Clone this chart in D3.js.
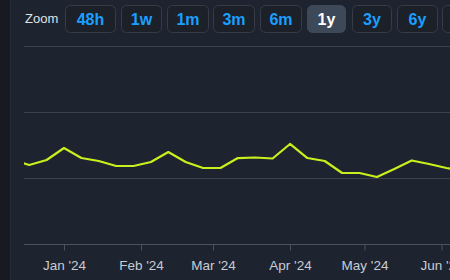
<!DOCTYPE html>
<html><head><meta charset="utf-8">
<script src="https://cdn.jsdelivr.net/npm/d3@7"></script>
<style>html,body{margin:0;padding:0;background:#1e2330;overflow:hidden}</style>
</head><body>
<script>
const dates = ["2023-12-11","2023-12-18","2023-12-25","2024-01-01","2024-01-08","2024-01-15","2024-01-22","2024-01-29","2024-02-05","2024-02-12","2024-02-19","2024-02-26","2024-03-04","2024-03-11","2024-03-18","2024-03-25","2024-04-01","2024-04-08","2024-04-15","2024-04-22","2024-04-29","2024-05-06","2024-05-13","2024-05-20","2024-05-27","2024-06-03","2024-06-10"];
const values = [126.5,119,126.5,144.7,129.5,125,117.4,117.4,123.5,138.6,123.5,114.4,114.4,129.5,130.3,128.8,150.8,129.5,125,106.8,106.8,100.8,112.9,125.8,120.5,114.4,109.8];
const yTicks = [0,100,200,300];
const monthTicks = ["2024-01-01","2024-02-01","2024-03-01","2024-04-01","2024-05-01","2024-06-01"];
const zoomButtons = ["48h","1w","1m","3m","6m","1y","3y","6y","All"];
const selectedZoom = "1y";

const W = 450, H = 280;
const parse = d3.utcParse("%Y-%m-%d");
const svg = d3.select("body").append("svg").attr("width", W).attr("height", H);

svg.append("rect").attr("width", W).attr("height", H).attr("fill", "#1e2330");
svg.append("rect").attr("width", 10).attr("height", H).attr("fill", "#171a21");
svg.append("rect").attr("x", 10).attr("width", 1).attr("height", H).attr("fill", "#242a36");

// zoom buttons
svg.append("text").attr("x", 25).attr("y", 23).attr("fill", "#dfe3e8")
  .attr("font-family", "Liberation Sans, Arial, sans-serif").attr("font-size", 13).text("Zoom");
const btnX = [65,121,167,213,260,307,352,397,442];
const btnW = [51,41,42,42,42,39,40,41,50];
zoomButtons.forEach((b, i) => {
  const g = svg.append("g").attr("transform", `translate(${btnX[i]},5)`);
  const sel = b === selectedZoom;
  g.append("rect").attr("x", 0.5).attr("y", 0.5).attr("width", btnW[i] - 1).attr("height", 27)
    .attr("rx", 5).attr("fill", sel ? "#3d4859" : "#1b2029").attr("stroke", sel ? "#3d4859" : "#353c48");
  g.append("text").attr("x", btnW[i] / 2).attr("y", 19.5).attr("text-anchor", "middle")
    .attr("font-family", "Liberation Sans, Arial, sans-serif").attr("font-weight", "bold")
    .attr("font-size", 16).attr("fill", sel ? "#ffffff" : "#1a9fff").text(b);
});

const x = d3.scaleUtc().domain([parse("2024-01-01"), parse("2024-04-01")]).range([64, 290]);
const y = d3.scaleLinear().domain([0, 300]).range([243.5, 45.5]);

const left = 24;
svg.append("clipPath").attr("id", "clip").append("rect").attr("x", left).attr("y", 0).attr("width", W - left).attr("height", H);

// grid
svg.append("g").selectAll("line").data(yTicks.slice(1)).join("line")
  .attr("x1", left).attr("x2", W).attr("y1", d => Math.round(y(d)) + 0.5).attr("y2", d => Math.round(y(d)) + 0.5)
  .attr("stroke", "#3a414d").attr("stroke-width", 1);

// x axis
const xAxis = d3.axisBottom(x).tickValues(monthTicks.map(parse)).tickSize(6).tickPadding(10)
  .tickFormat(d3.utcFormat("%b '%y"));
const ax = svg.append("g").attr("transform", `translate(0,${Math.round(y(0)) + 0.5})`).call(xAxis);
ax.select(".domain").remove();
ax.append("line").attr("x1", left).attr("x2", W).attr("stroke", "#4a5160");
ax.selectAll(".tick line").attr("stroke", "#4a5160");
ax.selectAll(".tick text").attr("fill", "#c7ccd4").attr("font-size", 13.5)
  .attr("font-family", "Liberation Sans, Arial, sans-serif");

const line = d3.line().x((d, i) => x(parse(dates[i]))).y(d => y(d));
svg.append("path").datum(values).attr("clip-path", "url(#clip)")
  .attr("d", line).attr("fill", "none").attr("stroke", "#c8f01c").attr("stroke-width", 2.2)
  .attr("stroke-linejoin", "round");
</script>
</body></html>
